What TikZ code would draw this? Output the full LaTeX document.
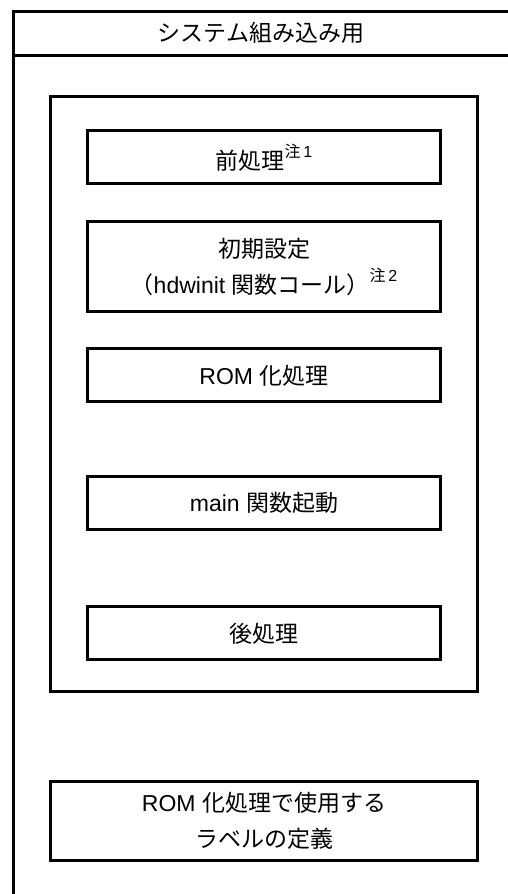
\documentclass[tikz,border=0pt]{standalone}
\usepackage{fontspec}
\setmainfont{Liberation Sans}
\newfontfamily\jp{Noto Sans CJK JP}
\newcommand{\chu}[1]{\raisebox{.5em}{\fontsize{16}{16}\selectfont{\jp 注}\,#1}}

\begin{document}
\begin{tikzpicture}[x=1pt,y=1pt,line width=3pt,
  every node/.style={font=\fontsize{23}{36}\selectfont,align=center,inner sep=0pt},
  box/.style={draw,minimum width=353pt,minimum height=53pt}]
\useasboundingbox (0,0) rectangle (508,894);
% outer frame, open at right and bottom
\draw (13.5,0) -- (13.5,882.5) -- (508,882.5);
\draw (13.5,838.5) -- (508,838.5);
\node (title) at (261,861) {\jp システム組み込み用};
% startup routine
\node[draw,minimum width=427pt,minimum height=595pt] (start) at (264,500) {};
\node[box] (pre) at (264,736.5) {{\jp 前処理}\chu{1}};
\node[box,minimum height=90pt] (init) at (264,627.5) {{\jp 初期設定}\\{\jp （}hdwinit {\jp 関数コール）}\chu{2}};
\node[box] (rom) at (264,518.5) {ROM {\jp 化処理}};
\node[box] (mainf) at (264,391) {main {\jp 関数起動}};
\node[box] (post) at (264,260.5) {\jp 後処理};
% label definitions
\node[draw,minimum width=427pt,minimum height=79pt] (label) at (264,73) {ROM {\jp 化処理で使用する}\\{\jp ラベルの定義}};
\end{tikzpicture}
\end{document}
